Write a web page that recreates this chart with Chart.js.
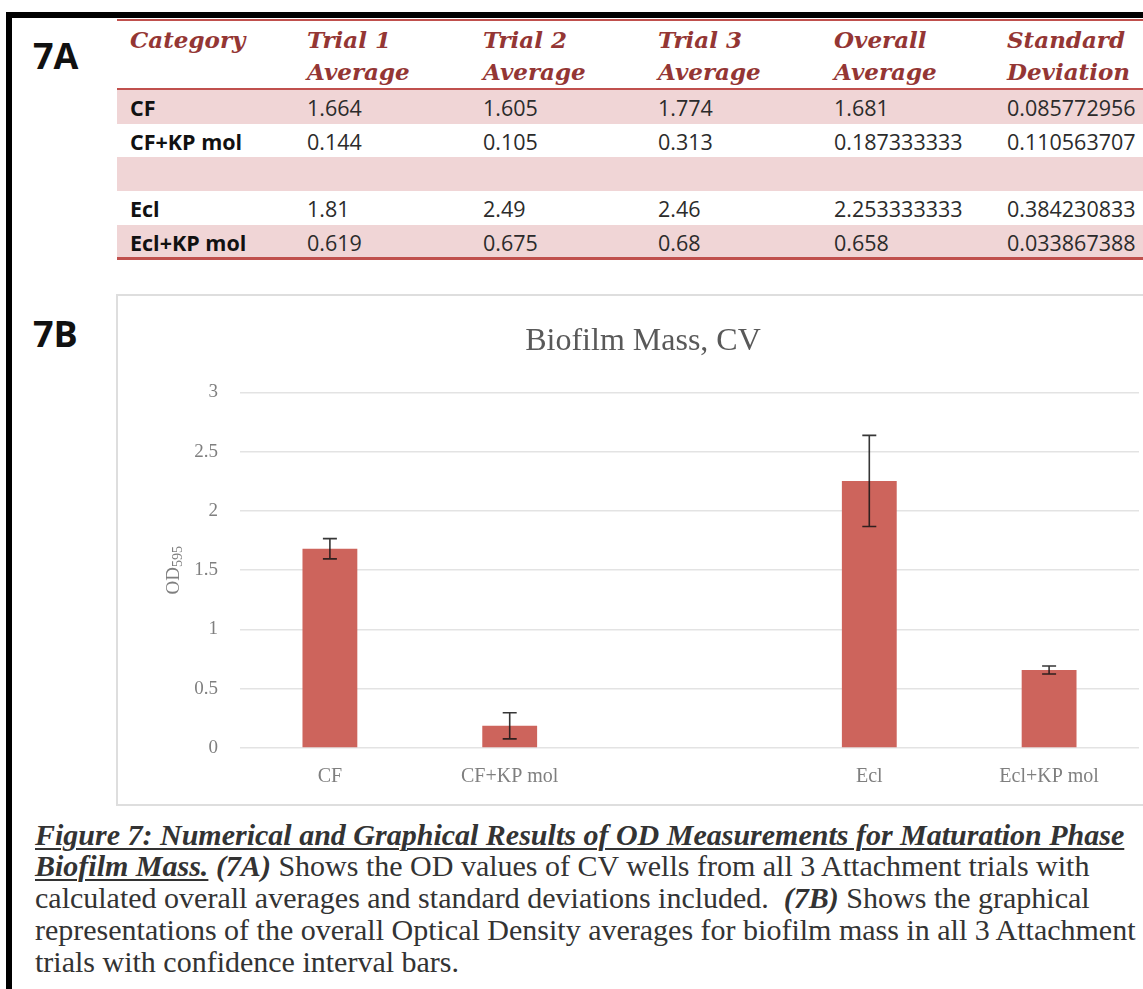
<!DOCTYPE html>
<html>
<head>
<meta charset="utf-8">
<script src="https://cdn.jsdelivr.net/npm/chart.js@4.4.1/dist/chart.umd.min.js"></script>
<style>
  html, body { margin: 0; padding: 0; background: #ffffff; overflow: hidden; }
  body { width: 1143px; height: 989px; position: relative; }
  .frame-top { position: absolute; left: 6px; top: 12px; width: 1137px; height: 6px; background: #000; }
  .frame-left { position: absolute; left: 6px; top: 12px; width: 6px; height: 977px; background: #000; }
  .panel { position: absolute; font-family: "Open Sans", sans-serif; font-weight: 700; font-size: 36px; color: #111; line-height: 1; }
  .redline { position: absolute; left: 117px; width: 1026px; background: #c0504d; }
  .band { position: absolute; left: 117px; width: 1026px; background: #f0d5d6; }
  .cell { position: absolute; white-space: nowrap; transform: translateY(-50%); }
  .head { font-family: "DejaVu Serif", serif; font-style: italic; font-weight: 700; font-size: 23px; color: #943634; }
  .val { font-family: "Open Sans", sans-serif; font-size: 21.5px; color: #2b2b2b; }
  .cat { font-weight: 700; color: #111; }
  #chartBox { position: absolute; left: 116px; top: 294px; width: 1060px; height: 508px; border: 2px solid #dedede; overflow: hidden; }
  #chartBox canvas { position: absolute; left: 0; top: 0; }
  .cap { position: absolute; left: 35px; white-space: nowrap; font-family: "Liberation Serif", serif; font-size: 30px; color: #333; transform: translateY(-50%); }
  .cap b { font-style: italic; }
  .cap u { text-decoration-thickness: 2px; text-underline-offset: 3px; }
</style>
</head>
<body>
<div class="frame-top"></div>
<div class="frame-left"></div>
<div class="panel" style="left:33px; top:38px;">7A</div>
<div class="panel" style="left:33px; top:316px;">7B</div>
<div id="table"></div>
<div id="chartBox"><canvas id="chart" width="1050" height="508" style="width:1050px;height:508px;"></canvas></div>

<div class="cap" style="top:835px;"><b><u>Figure 7: Numerical and Graphical Results of OD Measurements for Maturation Phase</u></b></div>
<div class="cap" style="top:866px;"><b><u>Biofilm Mass.</u> (7A)</b> Shows the OD values of CV wells from all 3 Attachment trials with</div>
<div class="cap" style="top:898px;">calculated overall averages and standard deviations included.&nbsp; <b>(7B)</b> Shows the graphical</div>
<div class="cap" style="top:930px;">representations of the overall Optical Density averages for biofilm mass in all 3 Attachment</div>
<div class="cap" style="top:962px;">trials with confidence interval bars.</div>

<script>
// Measurement data (OD595, crystal violet wells)
const categories = ['CF', 'CF+KP mol', '', 'Ecl', 'Ecl+KP mol'];
const trial1 = [1.664, 0.144, null, 1.81, 0.619];
const trial2 = [1.605, 0.105, null, 2.49, 0.675];
const trial3 = [1.774, 0.313, null, 2.46, 0.68];
const overallAverage = [1.681, 0.187333333, null, 2.253333333, 0.658];
const standardDeviation = [0.085772956, 0.110563707, null, 0.384230833, 0.033867388];
const headerLine1 = ['Category', 'Trial 1', 'Trial 2', 'Trial 3', 'Overall', 'Standard'];
const headerLine2 = ['', 'Average', 'Average', 'Average', 'Average', 'Deviation'];
const yTicks = [0, 0.5, 1, 1.5, 2, 2.5, 3];

// ---- Table 7A ----
const table = document.getElementById('table');
const colX = [130, 307, 483, 658, 834, 1007];
const rowTop = [90, 124, 157, 191, 225];
const rowBottom = [124, 157, 191, 225, 258];
function addEl(cls, style, text) {
  const d = document.createElement('div');
  d.className = cls;
  Object.assign(d.style, style);
  if (text !== undefined) d.textContent = text;
  table.appendChild(d);
  return d;
}
rowTop.forEach((t, i) => {
  if (i % 2 === 0) addEl('band', { top: t + 'px', height: (rowBottom[i] - t) + 'px' });
});
addEl('redline', { top: '19px', height: '2px' });
addEl('redline', { top: '88px', height: '2px' });
addEl('redline', { top: '257px', height: '3px' });
headerLine1.forEach((h, c) => addEl('cell head', { left: colX[c] + 'px', top: '39px' }, h));
headerLine2.forEach((h, c) => { if (h) addEl('cell head', { left: colX[c] + 'px', top: '71px' }, h); });
const columns = [trial1, trial2, trial3, overallAverage, standardDeviation];
categories.forEach((cat, r) => {
  const cy = (rowTop[r] + rowBottom[r]) / 2;
  if (cat) addEl('cell val cat', { left: colX[0] + 'px', top: cy + 'px' }, cat);
  columns.forEach((col, c) => {
    if (col[r] !== null) addEl('cell val', { left: colX[c + 1] + 'px', top: cy + 'px' }, String(col[r]));
  });
});

// ---- Chart 7B ----
const serif = '"Liberation Serif", serif';

const errorBars = {
  id: 'errorBars',
  afterDatasetsDraw(chart) {
    const meta = chart.getDatasetMeta(0);
    const y = chart.scales.y;
    const ctx = chart.ctx;
    ctx.save();
    ctx.strokeStyle = 'rgba(20,20,20,0.85)';
    ctx.lineWidth = 1.6;
    meta.data.forEach((bar, i) => {
      const v = overallAverage[i], sd = standardDeviation[i];
      if (v === null || sd === null) return;
      const top = y.getPixelForValue(v + sd);
      const bot = y.getPixelForValue(v - sd);
      const x = bar.x;
      ctx.beginPath();
      ctx.moveTo(x, top); ctx.lineTo(x, bot);
      ctx.moveTo(x - 7, top); ctx.lineTo(x + 7, top);
      ctx.moveTo(x - 7, bot); ctx.lineTo(x + 7, bot);
      ctx.stroke();
    });
    ctx.restore();
  }
};

// Axis title with subscript wavelength: OD595
const yAxisTitle = {
  id: 'yAxisTitle',
  afterDraw(chart) {
    const ctx = chart.ctx;
    const cy = (chart.chartArea.top + chart.chartArea.bottom) / 2;
    ctx.save();
    ctx.translate(54, cy);
    ctx.rotate(-Math.PI / 2);
    ctx.fillStyle = '#7f7f7f';
    ctx.textBaseline = 'alphabetic';
    ctx.font = '19px ' + serif;
    const w1 = ctx.measureText('OD').width;
    ctx.font = '14px ' + serif;
    const w2 = ctx.measureText('595').width;
    const x0 = -(w1 + w2) / 2;
    ctx.font = '19px ' + serif;
    ctx.fillText('OD', x0, 7);
    ctx.font = '14px ' + serif;
    ctx.fillText('595', x0 + w1, 10);
    ctx.restore();
  }
};

new Chart(document.getElementById('chart'), {
  type: 'bar',
  data: {
    labels: categories,
    datasets: [{
      label: 'Overall Average',
      data: overallAverage,
      backgroundColor: '#cd645c',
      borderWidth: 0,
      categoryPercentage: 1,
      barPercentage: 0.305
    }]
  },
  options: {
    responsive: false,
    animation: false,
    layout: { padding: { left: 0, right: 0, top: 0, bottom: 0 } },
    plugins: {
      legend: { display: false },
      tooltip: { enabled: false },
      title: {
        display: true,
        text: 'Biofilm Mass, CV',
        color: '#595959',
        font: { family: serif, size: 32, weight: 'normal' },
        padding: { top: 26, bottom: 32 }
      }
    },
    scales: {
      x: {
        grid: { display: false, drawTicks: false },
        border: { display: false },
        ticks: { color: '#7f7f7f', font: { family: serif, size: 20 }, padding: 17, maxRotation: 0, autoSkip: false },
        afterFit(s) { s.height = 56; }
      },
      y: {
        min: 0, max: 3,
        afterBuildTicks(s) { s.ticks = yTicks.map(v => ({ value: v })); },
        grid: { color: '#e3e3e3', lineWidth: 1.5, drawTicks: false },
        border: { display: false },
        ticks: { color: '#7f7f7f', font: { family: serif, size: 19 }, padding: 22, callback: v => String(v) },
        afterFit(s) { s.width = 122; }
      },
      yRight: {
        position: 'right',
        display: true,
        grid: { display: false, drawTicks: false },
        border: { display: false },
        ticks: { display: false },
        afterFit(s) { s.width = 29; }
      }
    }
  },
  plugins: [errorBars, yAxisTitle]
});
</script>
</body>
</html>
